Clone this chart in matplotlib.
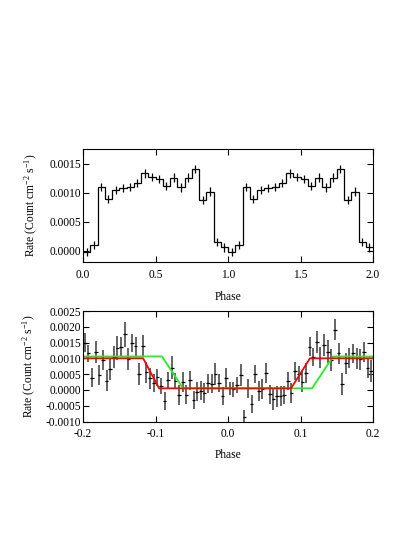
import numpy as np
import matplotlib
matplotlib.use("Agg")
import matplotlib.pyplot as plt

plt.rcParams['font.family'] = ['Liberation Serif', 'DejaVu Serif']
plt.rcParams['mathtext.fontset'] = 'custom'
plt.rcParams['mathtext.rm'] = 'Liberation Serif'
plt.rcParams['mathtext.it'] = 'Liberation Serif:italic'

# ---- Top panel: folded light curve (two cycles, 0.05 phase bins) ----
top_edges = np.linspace(0.0, 2.0, 41)
top_rate = [-0.00002, 0.00010, 0.00110, 0.00089, 0.00105, 0.00108, 0.00110, 0.00117,
            0.00133, 0.00127, 0.00123, 0.00111, 0.00126, 0.00109, 0.00126, 0.00141,
            0.00088, 0.00102, 0.00016, 0.00006,
            -0.00002, 0.00010, 0.00110, 0.00089, 0.00105, 0.00108, 0.00110, 0.00117,
            0.00133, 0.00127, 0.00123, 0.00111, 0.00126, 0.00109, 0.00126, 0.00141,
            0.00088, 0.00102, 0.00016, 0.00006]
top_err = [0.00007] * 40

# ---- Bottom panel: eclipse zoom, 0.005 phase bins ----
bot_phase = np.round(np.linspace(-0.1975, 0.1975, 80), 4)
bot_rate = [0.00150, 0.00116, 0.00039, 0.00120, 0.00047, 0.00095, 0.00029, 0.00066,
            0.00105, 0.00134, 0.00137, 0.00176, 0.00098, 0.00149, 0.00139, 0.00050,
            0.00140, 0.00056, 0.00037, 0.00023,
            0.00040, 0.00013, -0.00034, 0.00030, 0.00070, 0.00028, -0.00016, 0.00026,
            -0.00015, 0.00030, -0.00032, -0.00005, -0.00002, -0.00010, 0.00021, 0.00020,
            0.00050, 0.00023, -0.00019, 0.00037,
            0.00005, 0.00002, 0.00016, 0.00047, -0.00086, 0.00005, -0.00045, 0.00050,
            -0.00003, 0.00003, 0.00053, -0.00014, -0.00030, -0.00020, -0.00019, -0.00016,
            0.00028, -0.00010, 0.00060, 0.00050,
            0.00026, 0.00053, 0.00137, 0.00105, 0.00152, 0.00102, 0.00142, 0.00121,
            0.00095, 0.00191, 0.00116, 0.00019, 0.00084, 0.00102, 0.00116, 0.00100,
            0.00097, 0.00121, 0.00068, 0.00060]
bot_err = [0.00030, 0.00026, 0.00029, 0.00036, 0.00031, 0.00032, 0.00033, 0.00034,
           0.00034, 0.00038, 0.00032, 0.00039, 0.00034, 0.00029, 0.00030, 0.00034,
           0.00034, 0.00034, 0.00034, 0.00029,
           0.00027, 0.00026, 0.00029, 0.00026, 0.00036, 0.00026, 0.00031, 0.00031,
           0.00031, 0.00029, 0.00029, 0.00029, 0.00029, 0.00031, 0.00031, 0.00029,
           0.00034, 0.00029, 0.00029, 0.00031,
           0.00021, 0.00024, 0.00026, 0.00034, 0.00024, 0.00029, 0.00029, 0.00029,
           0.00031, 0.00031, 0.00031, 0.00031, 0.00034, 0.00034, 0.00031, 0.00029,
           0.00029, 0.00031, 0.00029, 0.00026,
           0.00033, 0.00031, 0.00031, 0.00029, 0.00034, 0.00034, 0.00034, 0.00036,
           0.00034, 0.00034, 0.00034, 0.00034, 0.00034, 0.00031, 0.00031, 0.00034,
           0.00034, 0.00031, 0.00031, 0.00034]

# eclipse models (knots)
red_phase = [-0.2, -0.117, -0.095, 0.087, 0.113, 0.2]
red_rate = [0.00100, 0.00100, 0.00005, 0.00005, 0.00100, 0.00100]
green_phase = [-0.2, -0.091, -0.062, 0.116, 0.145, 0.2]
green_rate = [0.00106, 0.00106, 0.00005, 0.00005, 0.00106, 0.00106]

fig = plt.figure(figsize=(4.15, 5.37), dpi=100)
W, H = 415.0, 537.0
ax1 = fig.add_axes([83 / W, 1 - 262 / H, 290 / W, 113 / H])
ax2 = fig.add_axes([83 / W, 1 - 421.5 / H, 290 / W, 110.5 / H])

fs = 8.3
ylab = r'Rate (Count cm$^{-2}$ s$^{-1}$)'

# top
ax1.stairs(top_rate, top_edges, color='black', lw=0.9, baseline=None)
centers = 0.5 * (top_edges[1:] + top_edges[:-1])
ax1.errorbar(centers, top_rate, yerr=top_err, fmt='none', ecolor='black', elinewidth=0.9, capsize=0)
ax1.set_xlim(0, 2.0)
ax1.set_ylim(-0.00019, 0.00175)
ax1.set_xticks([0.0, 0.5, 1.0, 1.5, 2.0])
ax1.set_yticks([0.0, 0.0005, 0.0010, 0.0015])
ax1.yaxis.set_major_formatter(matplotlib.ticker.FormatStrFormatter('%.4f'))
ax1.xaxis.set_major_formatter(matplotlib.ticker.FormatStrFormatter('%.1f'))
ax1.set_xlabel('Phase', fontsize=fs, labelpad=7.5)
ax1.set_ylabel(ylab, fontsize=fs, labelpad=6.5)

# bottom
ax2.errorbar(bot_phase, bot_rate, yerr=bot_err, fmt='none', ecolor='#4a4a4a', elinewidth=1.2, capsize=0)
ax2.errorbar(bot_phase, bot_rate, xerr=0.0025, fmt='none', ecolor='black', elinewidth=0.9, capsize=0)
ax2.plot(green_phase, green_rate, color='#22ee22', lw=1.3)
ax2.plot(red_phase, red_rate, color='#ff0000', lw=1.3)
ax2.set_xlim(-0.2, 0.2)
ax2.set_ylim(-0.0010, 0.0025)
ax2.set_xticks([-0.2, -0.1, 0.0, 0.1, 0.2])
ax2.set_yticks([-0.0010, -0.0005, 0.0, 0.0005, 0.0010, 0.0015, 0.0020, 0.0025])
ax2.yaxis.set_major_formatter(matplotlib.ticker.FormatStrFormatter('%.4f'))
ax2.xaxis.set_major_formatter(matplotlib.ticker.FormatStrFormatter('%.1f'))
ax2.set_xlabel('Phase', fontsize=fs, labelpad=6.5)
ax2.set_ylabel(ylab, fontsize=fs, labelpad=5)

for ax in (ax1, ax2):
    ax.tick_params(direction='in', top=True, right=True, length=4, width=0.8,
                   labelsize=fs)
    ax.tick_params(axis='x', pad=5)
    ax.tick_params(axis='y', pad=1.5)
    for s in ax.spines.values():
        s.set_linewidth(0.8)

fig.savefig('out.png', dpi=100)
